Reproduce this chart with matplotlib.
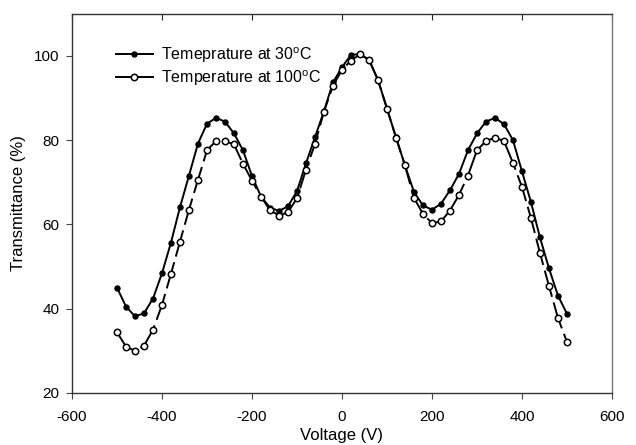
import matplotlib
matplotlib.use("Agg")
import matplotlib.pyplot as plt

plt.rcParams['font.family'] = ['Liberation Sans', 'DejaVu Sans']
plt.rcParams['mathtext.default'] = 'regular'
plt.rcParams['axes.unicode_minus'] = False

# voltage steps (V)
voltage = list(range(-500, 501, 20))

# transmittance at 30 C (%)
t30 = [45.0, 40.5, 38.2, 38.9, 42.4, 48.4, 55.7, 64.1, 71.6, 79.2,
       83.9, 85.3, 84.4, 81.6, 77.6, 71.5, 66.6, 64.0, 63.2, 64.3,
       67.9, 74.5, 80.7, 86.9, 93.7, 97.3, 100.3, 100.4, 99.1, 94.3,
       87.5, 80.7, 74.0, 67.7, 64.5, 63.5, 64.9, 68.1, 72.0, 77.6,
       81.6, 84.4, 85.3, 83.8, 80.0, 72.6, 65.3, 56.9, 49.6, 43.1,
       38.8]

# transmittance at 100 C (%)
t100 = [34.4, 31.0, 30.0, 31.2, 35.0, 40.9, 48.3, 55.9, 63.5, 70.6,
        77.6, 79.8, 79.8, 79.0, 74.4, 70.4, 66.6, 63.4, 62.1, 62.9,
        66.2, 73.0, 79.1, 86.8, 92.9, 96.7, 98.9, 100.4, 99.1, 94.3,
        87.5, 80.6, 74.0, 66.3, 62.5, 60.3, 60.7, 63.3, 67.0, 71.6,
        77.6, 79.8, 80.6, 79.8, 74.6, 68.9, 61.5, 53.2, 45.4, 37.8,
        32.1]

xticks = [-600, -400, -200, 0, 200, 400, 600]
yticks = [20, 40, 60, 80, 100]

fig = plt.figure(figsize=(6.36, 4.45), dpi=100)
ax = fig.add_axes([0.1132, 0.117, 0.849, 0.852])

ax.plot(voltage, t30, color='black', lw=1.4, marker='o', ms=3.6,
        mfc='black', mec='black', label='Temeprature at 30$^{o}$C')
ax.plot(voltage, t100, color='black', lw=1.4, dashes=(14, 3), marker='o', ms=4.6,
        mfc='white', mec='black', mew=1.1, label='Temperature at 100$^{o}$C')

ax.set_xlim(-600, 600)
ax.set_ylim(20, 110)
ax.set_xticks(xticks)
ax.set_yticks(yticks)
ax.tick_params(axis='both', labelsize=11, direction='out', length=4,
               color='#444444')
ax.tick_params(axis='x', pad=8)
ax.tick_params(axis='y', pad=5)

# inward ticks along the top edge
top = ax.secondary_xaxis('top')
top.set_xticks(xticks)
top.tick_params(direction='in', length=4, color='#222222', labeltop=False)
top.spines['top'].set_visible(False)

for s in ax.spines.values():
    s.set_color('#333333')
    s.set_linewidth(1.0)
ax.spines['right'].set_color('#777777')

ax.set_xlabel('Voltage (V)', fontsize=12, labelpad=3)
ax.set_ylabel('Transmittance (%)', fontsize=12, labelpad=6)

leg = ax.legend(loc='upper left', bbox_to_anchor=(0.055, 0.955), frameon=False,
                fontsize=11.5, handlelength=2.3, handletextpad=0.5,
                labelspacing=0.2)
for line in leg.get_lines():
    line.set_linestyle('-')

fig.savefig('out.png', dpi=100)
